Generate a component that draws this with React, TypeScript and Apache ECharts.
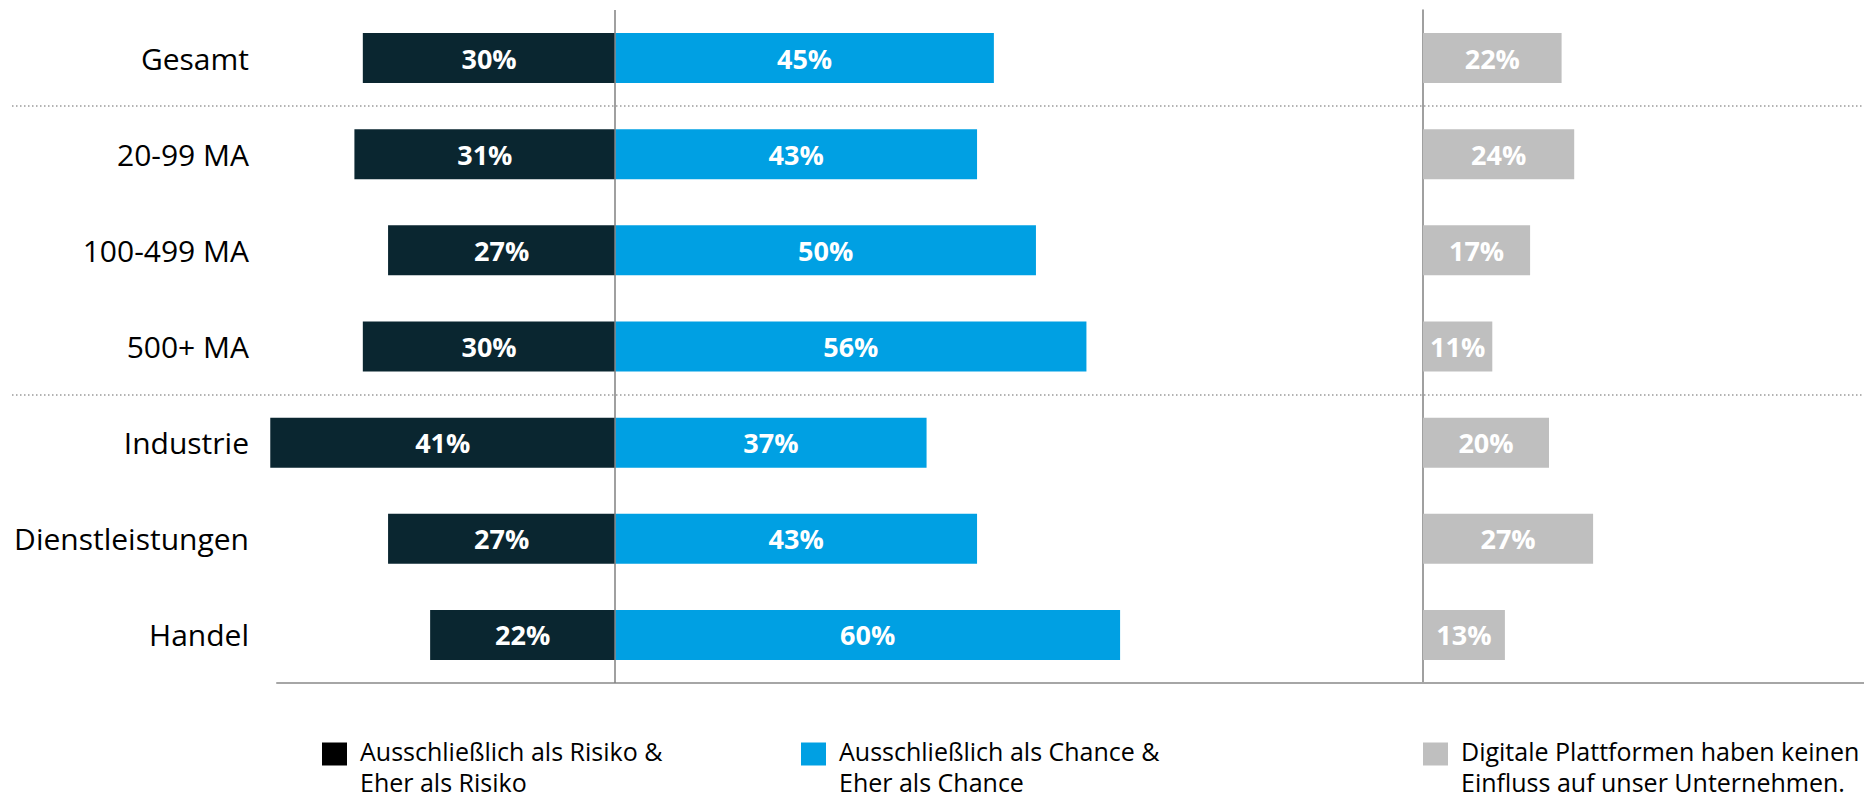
import React, { useEffect, useRef } from "react";
import * as echarts from "echarts";

const categories = ["Gesamt", "20-99 MA", "100-499 MA", "500+ MA", "Industrie", "Dienstleistungen", "Handel"];
const risiko = [30, 31, 27, 30, 41, 27, 22];
const chance = [45, 43, 50, 56, 37, 43, 60];
const keinEinfluss = [22, 24, 17, 11, 20, 27, 13];
const separatorRows = [1, 4];
const seriesNames = [
  "Ausschließlich als Risiko &\nEher als Risiko",
  "Ausschließlich als Chance &\nEher als Chance",
  "Digitale Plattformen haben keinen\nEinfluss auf unser Unternehmen.",
];
const colors = ["#0a2630", "#00a0e3", "#bfbfbf"];
const legendIconColors = ["#000000", "#00a0e3", "#bfbfbf"];
const legendLefts = [322, 801, 1423];

const FONT = "'Open Sans', 'Noto Sans', sans-serif";

export default function App() {
  const ref = useRef<HTMLDivElement>(null);

  useEffect(() => {
    document.body.style.margin = "0";
    if (!ref.current) return;
    const chart = echarts.init(ref.current, undefined, { renderer: "svg" });

    const top = 10;
    const bottom = 117;
    const splitX = 1423;

    const barLabel = {
      show: true,
      position: "inside" as const,
      color: "#ffffff",
      fontWeight: "bold" as const,
      fontSize: 27,
      fontFamily: FONT,
      formatter: (p: any) => Math.abs(p.value) + "%",
    };

    const option: any = {
      animation: false,
      backgroundColor: "#ffffff",
      textStyle: { fontFamily: FONT },
      grid: [
        { left: 277, right: 1864 - splitX, top, bottom, containLabel: false },
        { left: splitX, right: 0, top, bottom, containLabel: false },
        { left: 12, right: 0, top, bottom, containLabel: false },
      ],
      xAxis: [
        {
          type: "value",
          gridIndex: 0,
          min: -40.2,
          max: 96,
          axisLabel: { show: false },
          axisTick: { show: false },
          splitLine: { show: false },
          axisLine: { show: true, lineStyle: { color: "#a6a6a6", width: 2 } },
        },
        {
          type: "value",
          gridIndex: 1,
          min: 0,
          max: 70,
          axisLabel: { show: false },
          axisTick: { show: false },
          splitLine: { show: false },
          axisLine: { show: true, lineStyle: { color: "#a6a6a6", width: 2 } },
        },
        {
          type: "value",
          gridIndex: 2,
          min: 0,
          max: 1,
          show: false,
        },
      ],
      yAxis: [
        {
          type: "category",
          gridIndex: 0,
          data: categories,
          inverse: true,
          axisLine: { show: false },
          axisTick: { show: false },
          axisLabel: {
            color: "#000000",
            fontSize: 30,
            fontFamily: FONT,
            margin: 28,
          },
        },
        {
          type: "category",
          gridIndex: 1,
          data: categories,
          inverse: true,
          axisLine: { show: true, lineStyle: { color: "#808080", width: 1.5 } },
          axisTick: { show: false },
          axisLabel: { show: false },
        },
        {
          type: "value",
          gridIndex: 2,
          min: 0,
          max: categories.length,
          inverse: true,
          show: false,
        },
      ],
      legend: seriesNames.map((name, i) => ({
        data: [{ name, itemStyle: { color: legendIconColors[i] } }],
        left: legendLefts[i],
        top: 721,
        padding: 0,
        orient: "horizontal",
        selectedMode: false,
        icon: "rect",
        itemWidth: 25,
        itemHeight: 23,
        formatter: (n: string) =>
          "{s| }\n" + n.split("\n").map((l) => "{t|" + l + "}").join("\n"),
        textStyle: {
          color: "#000000",
          fontSize: 25,
          fontFamily: FONT,
          padding: [0, 0, 0, 8],
          rich: {
            s: { fontSize: 4, lineHeight: 25 },
            t: { fontSize: 25, lineHeight: 31, fontFamily: FONT, color: "#000000" },
          },
        },
      })),
      series: [
        {
          name: seriesNames[0],
          type: "bar",
          xAxisIndex: 0,
          yAxisIndex: 0,
          stack: "div",
          barWidth: 50,
          clip: false,
          data: risiko.map((v) => -v),
          itemStyle: { color: colors[0] },
          label: barLabel,
          markLine: {
            silent: true,
            symbol: ["none", "none"],
            label: { show: false },
            lineStyle: { color: "#808080", width: 1.5, type: "solid" },
            data: [{ xAxis: 0 }],
            z: 10,
          },
        },
        {
          name: seriesNames[1],
          type: "bar",
          xAxisIndex: 0,
          yAxisIndex: 0,
          stack: "div",
          barWidth: 50,
          data: chance,
          itemStyle: { color: colors[1] },
          label: barLabel,
        },
        {
          name: seriesNames[2],
          type: "bar",
          xAxisIndex: 1,
          yAxisIndex: 1,
          barWidth: 50,
          data: keinEinfluss,
          itemStyle: { color: colors[2] },
          label: barLabel,
        },
        {
          name: "separators",
          type: "line",
          xAxisIndex: 2,
          yAxisIndex: 2,
          data: [],
          silent: true,
          showSymbol: false,
          markLine: {
            silent: true,
            symbol: ["none", "none"],
            label: { show: false },
            lineStyle: { color: "#9a9a9a", width: 1.5, type: [1.5, 2.5] },
            data: separatorRows.map((r) => ({ yAxis: r })),
          },
        },
      ],
    };

    chart.setOption(option);
    return () => {
      chart.dispose();
    };
  }, []);

  return <div ref={ref} style={{ width: 1864, height: 800 }} />;
}
